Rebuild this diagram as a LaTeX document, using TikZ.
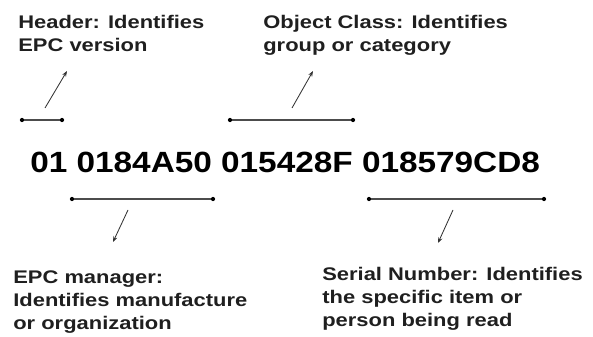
\documentclass[tikz,border=0pt]{standalone}
\usepackage{fontspec}
\setmainfont{Liberation Sans}
\usepackage{tikz}
\usetikzlibrary{positioning, arrows.meta}

\begin{document}
\begin{tikzpicture}[
					>={Stealth[length=4pt, width=3pt]},
					% Define styles for the labels
					caption/.style={
						anchor=base west,
						inner sep=0pt,
						align=left,
						xscale=1.2,
						transform shape,
						text=black!88,
						font=\fontsize{13}{16.5}\selectfont\bfseries
					},
					code/.style={
						anchor=base west,
						inner sep=0pt,
						xscale=1.14,
						transform shape,
						font=\fontsize{20.8}{24}\selectfont\bfseries
					},
					dot/.style={
						circle,
						fill=black,
						inner sep=0pt,
						minimum size=3pt
					},
					bar/.style={
						draw=black!70,
						line width=1pt
					},
					pointer/.style={
						->,
						draw=black!80,
						line width=0.6pt
					}
					]
					\useasboundingbox (0,0) rectangle (14.825,8.425);
					
					% --- 1. EPC NUMBER ---
					\node[code] (epc) at (0.75,4.1) {01 0184A50 015428F 018579CD8};
					
					% --- 2. HEADER ---
					\node[caption] (header) at (0.45,7.125) {Header: Identifies\\EPC version};
					\node[dot] (h_left) at (0.55,5.425) {};
					\node[dot] (h_right) at (1.55,5.425) {};
					\draw[bar] (h_left) -- (h_right);
					\coordinate (h_from) at (1.125,5.725);
					\coordinate (h_to) at (1.675,6.65);
					\draw[pointer] (h_from) -- (h_to);
					
					% --- 3. OBJECT CLASS ---
					\node[caption] (object) at (6.575,7.125) {Object Class: Identifies\\group or category};
					\node[dot] (o_left) at (5.75,5.425) {};
					\node[dot] (o_right) at (8.825,5.425) {};
					\draw[bar] (o_left) -- (o_right);
					\coordinate (o_from) at (7.3,5.725);
					\coordinate (o_to) at (7.825,6.65);
					\draw[pointer] (o_from) -- (o_to);
					
					% --- 4. EPC MANAGER ---
					\node[dot] (m_left) at (1.8,3.45) {};
					\node[dot] (m_right) at (5.325,3.45) {};
					\draw[bar] (m_left) -- (m_right);
					\coordinate (m_from) at (3.2,3.175);
					\coordinate (m_to) at (2.825,2.375);
					\draw[pointer] (m_from) -- (m_to);
					\node[caption] (manager) at (0.325,0.175) {EPC manager:\\Identifies manufacture\\or organization};
					
					% --- 5. SERIAL NUMBER ---
					\node[dot] (s_left) at (9.225,3.45) {};
					\node[dot] (s_right) at (13.6,3.45) {};
					\draw[bar] (s_left) -- (s_right);
					\coordinate (s_from) at (11.325,3.175);
					\coordinate (s_to) at (10.95,2.35);
					\draw[pointer] (s_from) -- (s_to);
					\node[caption] (serial) at (8.05,0.25) {Serial Number: Identifies\\the specific item or\\person being read};
					
				\end{tikzpicture}
\end{document}
